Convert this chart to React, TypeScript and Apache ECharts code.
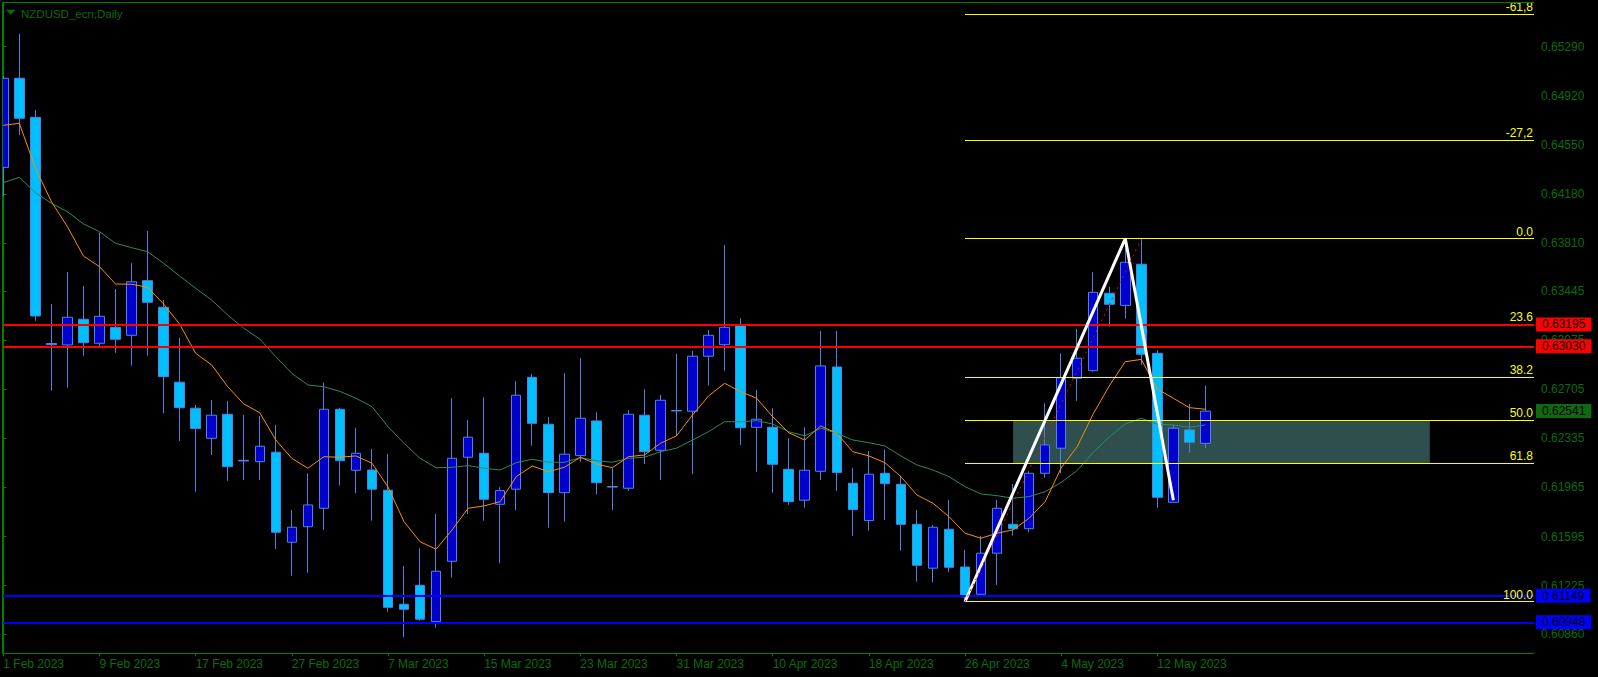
import React, { useEffect, useRef } from "react";
import * as echarts from "echarts";

// ---- data ----
const dates = [
  "1 Feb 2023","2 Feb 2023","3 Feb 2023","6 Feb 2023","7 Feb 2023","8 Feb 2023","9 Feb 2023","10 Feb 2023",
  "13 Feb 2023","14 Feb 2023","15 Feb 2023","16 Feb 2023","17 Feb 2023","20 Feb 2023","21 Feb 2023","22 Feb 2023",
  "23 Feb 2023","24 Feb 2023","27 Feb 2023","28 Feb 2023",
  "1 Mar 2023","2 Mar 2023","3 Mar 2023","6 Mar 2023","7 Mar 2023","8 Mar 2023","9 Mar 2023","10 Mar 2023",
  "13 Mar 2023","14 Mar 2023","15 Mar 2023","16 Mar 2023","17 Mar 2023","20 Mar 2023","21 Mar 2023","22 Mar 2023",
  "23 Mar 2023","24 Mar 2023","27 Mar 2023","28 Mar 2023","29 Mar 2023","30 Mar 2023","31 Mar 2023",
  "3 Apr 2023","4 Apr 2023","5 Apr 2023","6 Apr 2023","7 Apr 2023","10 Apr 2023","11 Apr 2023","12 Apr 2023",
  "13 Apr 2023","14 Apr 2023","17 Apr 2023","18 Apr 2023","19 Apr 2023","20 Apr 2023","21 Apr 2023","24 Apr 2023",
  "25 Apr 2023","26 Apr 2023","27 Apr 2023","28 Apr 2023",
  "1 May 2023","2 May 2023","3 May 2023","4 May 2023","5 May 2023","8 May 2023","9 May 2023","10 May 2023",
  "11 May 2023","12 May 2023","15 May 2023","16 May 2023","17 May 2023",
];
const emptySlots = ["s1","s2","s3","s4","s5","s6","s7","s8","s9","s10","s11","s12","s13","s14","s15","s16","s17","s18","s19","s20"];

// [open, close, low, high]
const candles = [
  [0.64380, 0.65052, 0.64164, 0.65069],
  [0.65052, 0.64750, 0.64623, 0.65386],
  [0.64757, 0.63259, 0.63223, 0.64813],
  [0.63051, 0.63042, 0.62695, 0.63349],
  [0.63040, 0.63249, 0.62718, 0.63591],
  [0.63234, 0.63057, 0.62959, 0.63485],
  [0.63053, 0.63256, 0.63023, 0.63890],
  [0.63173, 0.63083, 0.62982, 0.63462],
  [0.63113, 0.63517, 0.62884, 0.63656],
  [0.63525, 0.63362, 0.62959, 0.63900],
  [0.63324, 0.62801, 0.62525, 0.63379],
  [0.62759, 0.62567, 0.62316, 0.63093],
  [0.62563, 0.62409, 0.61933, 0.62587],
  [0.62336, 0.62510, 0.62210, 0.62625],
  [0.62517, 0.62122, 0.62016, 0.62618],
  [0.62170, 0.62165, 0.62022, 0.62512],
  [0.62160, 0.62276, 0.62022, 0.62504],
  [0.62231, 0.61627, 0.61501, 0.62437],
  [0.61552, 0.61665, 0.61300, 0.61795],
  [0.61669, 0.61833, 0.61322, 0.62072],
  [0.61808, 0.62555, 0.61645, 0.62756],
  [0.62555, 0.62167, 0.61979, 0.62567],
  [0.62095, 0.62223, 0.61921, 0.62416],
  [0.62097, 0.61952, 0.61715, 0.62256],
  [0.61944, 0.61061, 0.61028, 0.62218],
  [0.61084, 0.61046, 0.60835, 0.61373],
  [0.61227, 0.60971, 0.60960, 0.61506],
  [0.60953, 0.61333, 0.60908, 0.61765],
  [0.61408, 0.62185, 0.61285, 0.62638],
  [0.62193, 0.62344, 0.61765, 0.62474],
  [0.62223, 0.61876, 0.61715, 0.62645],
  [0.61838, 0.61941, 0.61393, 0.61967],
  [0.61952, 0.62661, 0.61795, 0.62768],
  [0.62796, 0.62449, 0.62280, 0.62821],
  [0.62442, 0.61926, 0.61662, 0.62495],
  [0.61926, 0.62216, 0.61707, 0.62827],
  [0.62205, 0.62487, 0.62160, 0.62940],
  [0.62467, 0.62001, 0.61914, 0.62532],
  [0.61972, 0.61968, 0.61795, 0.62110],
  [0.61959, 0.62517, 0.61941, 0.62550],
  [0.62510, 0.62235, 0.62142, 0.62706],
  [0.62246, 0.62623, 0.62022, 0.62663],
  [0.62546, 0.62542, 0.62354, 0.62972],
  [0.62540, 0.62955, 0.62067, 0.62995],
  [0.62955, 0.63113, 0.62733, 0.63153],
  [0.63042, 0.63173, 0.62846, 0.63794],
  [0.63191, 0.62416, 0.62286, 0.63241],
  [0.62419, 0.62480, 0.62084, 0.62701],
  [0.62419, 0.62140, 0.61926, 0.62563],
  [0.62102, 0.61858, 0.61833, 0.62336],
  [0.61869, 0.62095, 0.61813, 0.62419],
  [0.62087, 0.62882, 0.62022, 0.63146],
  [0.62874, 0.62077, 0.61939, 0.63146],
  [0.61997, 0.61798, 0.61601, 0.62114],
  [0.61715, 0.62065, 0.61639, 0.62240],
  [0.62072, 0.61994, 0.61720, 0.62253],
  [0.61989, 0.61687, 0.61488, 0.62054],
  [0.61687, 0.61378, 0.61254, 0.61795],
  [0.61356, 0.61665, 0.61250, 0.61682],
  [0.61650, 0.61363, 0.61325, 0.61871],
  [0.61365, 0.61140, 0.61103, 0.61494],
  [0.61159, 0.61469, 0.61137, 0.61601],
  [0.61469, 0.61808, 0.61230, 0.61871],
  [0.61687, 0.61654, 0.61601, 0.61991],
  [0.61654, 0.62072, 0.61627, 0.62087],
  [0.62072, 0.62286, 0.62039, 0.62600],
  [0.62261, 0.62793, 0.62072, 0.62977],
  [0.62789, 0.62940, 0.62620, 0.63161],
  [0.62846, 0.63437, 0.62839, 0.63588],
  [0.63430, 0.63347, 0.63178, 0.63480],
  [0.63339, 0.63664, 0.63241, 0.63843],
  [0.63649, 0.62970, 0.62889, 0.63840],
  [0.62977, 0.61891, 0.61813, 0.63002],
  [0.61853, 0.62412, 0.61850, 0.62437],
  [0.62399, 0.62306, 0.62228, 0.62595],
  [0.62298, 0.62541, 0.62261, 0.62731],
];

const maFast = [
  0.64697, 0.64712, 0.64375, 0.64121, 0.63932, 0.63711, 0.63631, 0.63500, 0.63498, 0.63475,
  0.63349, 0.63198, 0.62977, 0.62889, 0.62725, 0.62595, 0.62529, 0.62323, 0.62185, 0.62110,
  0.62197, 0.62193, 0.62203, 0.62148, 0.61969, 0.61707, 0.61556, 0.61499, 0.61645, 0.61808,
  0.61826, 0.61858, 0.62047, 0.62127, 0.62084, 0.62117, 0.62193, 0.62142, 0.62114, 0.62197,
  0.62210, 0.62298, 0.62354, 0.62512, 0.62655, 0.62751, 0.62688, 0.62638, 0.62499, 0.62378,
  0.62323, 0.62429, 0.62374, 0.62235, 0.62203, 0.62152, 0.62047, 0.61909, 0.61846, 0.61745,
  0.61620, 0.61582, 0.61620, 0.61645, 0.61733, 0.61858, 0.62112, 0.62273, 0.62520, 0.62731,
  0.62914, 0.62931, 0.62708, 0.62638, 0.62567, 0.62555,
];
const maSlow = [
  0.64264, 0.64305, 0.64189, 0.64109, 0.64045, 0.63953, 0.63895, 0.63807, 0.63774, 0.63744,
  0.63656, 0.63560, 0.63468, 0.63379, 0.63266, 0.63166, 0.63085, 0.62952, 0.62826, 0.62738,
  0.62725, 0.62690, 0.62638, 0.62575, 0.62424, 0.62298, 0.62185, 0.62114, 0.62117, 0.62130,
  0.62110, 0.62097, 0.62152, 0.62178, 0.62155, 0.62155, 0.62190, 0.62167, 0.62155, 0.62185,
  0.62193, 0.62235, 0.62261, 0.62323, 0.62386, 0.62461, 0.62461, 0.62469, 0.62444, 0.62386,
  0.62354, 0.62412, 0.62374, 0.62323, 0.62303, 0.62278, 0.62203, 0.62135, 0.62097, 0.62047,
  0.61971, 0.61916, 0.61903, 0.61884, 0.61896, 0.61933, 0.62003, 0.62093, 0.62229, 0.62346,
  0.62444, 0.62487, 0.62442, 0.62437, 0.62419, 0.62437,
];

const yTicks = [0.65290, 0.64920, 0.64550, 0.64180, 0.63810, 0.63445, 0.63075, 0.62705, 0.62335, 0.61965, 0.61595, 0.61225, 0.60860];

const fibLabels = ["-61,8", "-27,2", "0.0", "23.6", "38.2", "50.0", "61.8", "100.0"];
const fibPrices = [0.65536, 0.64588, 0.63843, 0.63196, 0.62796, 0.62473, 0.62150, 0.61103];
const fibStartIndex = 60;

const zoneIndex = [63, 89];
const zonePrice = [0.62473, 0.62150];

const zigzagIndex = [60, 70, 73];
const zigzagPrice = [0.61103, 0.63843, 0.61868];
const trendIndex = [60, 71];
const trendPrice = [0.61103, 0.63840];

const redLevels = [0.63195, 0.63030];
const blueLevels = [0.60948, 0.61149];
const bidPrice = 0.62541;

// ---- styling ----
const GREEN = "#008000";
const TEXT_GREEN = "#0c6c0c";
const FONT = "Liberation Sans";

export default function App() {
  const ref = useRef<HTMLDivElement>(null);

  useEffect(() => {
    if (!ref.current) return;
    const chart = echarts.init(ref.current, null, { renderer: "svg" });
    const categories = dates.concat(emptySlots);
    const lastIdx = categories.length - 1;
    const labelEvery = (index: number) => index % 6 === 0 && index < dates.length;

    const priceLabel = {
      show: true,
      position: "end",
      distance: 2,
      color: "#000000",
      fontFamily: FONT,
      fontSize: 12,
      padding: [1, 6, 1, 6],
      formatter: (p: any) => Number(p.value).toFixed(5),
    };

    const option: any = {
      animation: false,
      backgroundColor: "#000000",
      grid: {
        left: -4.7,
        right: 64,
        top: 2.3,
        bottom: 23.7,
        show: false,
        containLabel: false,
        outerBoundsMode: "none",
      },
      xAxis: [
        {
          type: "category",
          data: categories,
          boundaryGap: true,
          axisLine: { show: true, lineStyle: { color: GREEN, width: 1 } },
          axisTick: { show: true, alignWithLabel: true, interval: labelEvery, length: 3, lineStyle: { color: GREEN } },
          axisLabel: {
            interval: labelEvery,
            align: "left",
            color: TEXT_GREEN,
            fontFamily: FONT,
            fontSize: 12,
            margin: 5,
          },
          splitLine: { show: false },
        },
        {
          type: "value",
          min: -0.5,
          max: lastIdx + 0.5,
          show: false,
          gridIndex: 0,
        },
      ],
      yAxis: {
        type: "value",
        position: "right",
        min: 0.60714,
        max: 0.65625,
        scale: true,
        axisLine: { show: true, lineStyle: { color: GREEN, width: 1 } },
        axisTick: { show: true, customValues: yTicks, length: 3, lineStyle: { color: GREEN } },
        axisLabel: {
          customValues: yTicks,
          formatter: (v: number) => v.toFixed(5),
          color: TEXT_GREEN,
          fontFamily: FONT,
          fontSize: 12,
          margin: 7,
        },
        splitLine: { show: false },
      },
      series: [
        {
          name: "zone",
          type: "line",
          xAxisIndex: 1,
          data: [[zoneIndex[0], zonePrice[0]]],
          symbol: "none",
          showSymbol: false,
          z: 1,
          silent: true,
          markArea: {
            silent: true,
            itemStyle: { color: "#2F4F4F", opacity: 1 },
            data: [[{ coord: [zoneIndex[0], zonePrice[0]] }, { coord: [zoneIndex[1], zonePrice[1]] }]],
          },
        },
        {
          name: "NZDUSD",
          type: "candlestick",
          xAxisIndex: 0,
          data: candles,
          barWidth: 10,
          z: 2,
          itemStyle: {
            color: "#0000CD",
            color0: "#00BFFF",
            borderColor: "#5082E6",
            borderColor0: "#5082E6",
            borderWidth: 1,
          },
        },
        {
          name: "MA slow",
          type: "line",
          xAxisIndex: 0,
          data: maSlow,
          symbol: "none",
          z: 3,
          lineStyle: { color: "#2E8B57", width: 1 },
        },
        {
          name: "MA fast",
          type: "line",
          xAxisIndex: 0,
          data: maFast,
          symbol: "none",
          z: 3,
          lineStyle: { color: "#FF8C00", width: 1 },
        },
        {
          name: "fib",
          type: "line",
          xAxisIndex: 1,
          data: [[fibStartIndex, fibPrices[fibPrices.length - 1]]],
          symbol: "none",
          showSymbol: false,
          z: 4,
          silent: true,
          markLine: {
            silent: true,
            precision: 5,
            symbol: ["none", "none"],
            lineStyle: { color: "#FFFF00", width: 1, type: "solid" },
            label: {
              show: true,
              position: "insideEndTop",
              distance: [1, 1],
              color: "#FFFF00",
              fontFamily: FONT,
              fontSize: 12,
              formatter: (p: any) => p.name,
            },
            data: fibPrices.map((p, k) => [
              { coord: [fibStartIndex, p], name: fibLabels[k] },
              { coord: [lastIdx + 0.5, p] },
            ]),
          },
        },
        {
          name: "levels",
          type: "line",
          xAxisIndex: 0,
          data: [],
          symbol: "none",
          z: 5,
          silent: true,
          markLine: {
            silent: true,
            precision: 5,
            symbol: ["none", "none"],
            label: priceLabel,
            data: [
              ...redLevels.map((v) => ({
                yAxis: v,
                lineStyle: { color: "#FF0000", width: 2, type: "solid" },
                label: { backgroundColor: "#FF0000" },
              })),
              ...blueLevels.map((v) => ({
                yAxis: v,
                lineStyle: { color: "#0000FF", width: 2, type: "solid" },
                label: { backgroundColor: "#0000FF" },
              })),
            ],
          },
        },
        {
          name: "bid",
          type: "line",
          xAxisIndex: 0,
          data: [],
          symbol: "none",
          z: 5,
          silent: true,
          markLine: {
            silent: true,
            precision: 5,
            symbol: ["none", "none"],
            lineStyle: { color: "rgba(0,0,0,0)", width: 0 },
            label: { ...priceLabel, backgroundColor: "#0E6A0E" },
            data: [{ yAxis: bidPrice }],
          },
        },
        {
          name: "zigzag",
          type: "line",
          xAxisIndex: 1,
          data: zigzagIndex.map((x, k) => [x, zigzagPrice[k]]),
          symbol: "none",
          z: 6,
          silent: true,
          lineStyle: { color: "#FFFFFF", width: 3 },
        },
        {
          name: "trend",
          type: "line",
          xAxisIndex: 1,
          data: trendIndex.map((x, k) => [x, trendPrice[k]]),
          symbol: "none",
          z: 7,
          silent: true,
          lineStyle: { color: "#FF0000", width: 1, type: [2, 4] },
        },
      ],
      graphic: [
        { type: "rect", z: 100, silent: true, shape: { x: 0, y: 0, width: 2.5, height: 677 }, style: { fill: "#000000" } },
        { type: "line", z: 101, silent: true, shape: { x1: 2.5, y1: 2.5, x2: 2.5, y2: 653.5 }, style: { stroke: GREEN, lineWidth: 1 } },
        { type: "line", z: 101, silent: true, shape: { x1: 2.5, y1: 2.5, x2: 1534, y2: 2.5 }, style: { stroke: GREEN, lineWidth: 1 } },
        { type: "polygon", z: 101, silent: true, shape: { points: [[6.5, 10], [15, 10], [10.75, 14.5]] }, style: { fill: TEXT_GREEN, stroke: TEXT_GREEN, lineWidth: 0.5 } },
        {
          type: "text",
          z: 101,
          silent: true,
          x: 21,
          y: 13.5,
          style: { text: "NZDUSD_ecn,Daily", fill: TEXT_GREEN, font: `11.5px "${FONT}"`, verticalAlign: "middle", align: "left" },
        },
      ],
    };

    chart.setOption(option);
    return () => chart.dispose();
  }, []);

  return (
    <div
      ref={ref}
      style={{ position: "fixed", left: 0, top: 0, width: 1598, height: 677, background: "#000000" }}
    />
  );
}
